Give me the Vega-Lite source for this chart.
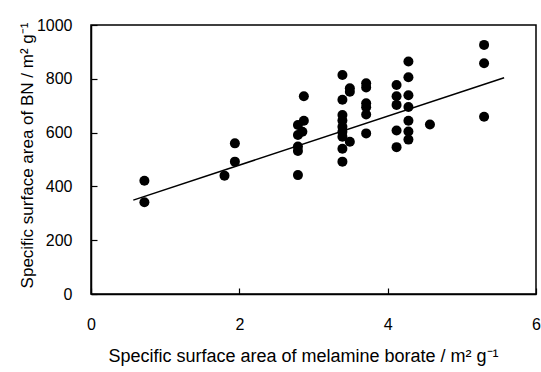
{
  "$schema": "https://vega.github.io/schema/vega-lite/v6.json",
  "width": 445,
  "height": 269,
  "autosize": {"type": "none"},
  "padding": {"left": 91, "top": 25, "right": 5, "bottom": 78},
  "background": "white",
  "config": {
    "font": "Liberation Sans",
    "view": {"stroke": "black", "strokeWidth": 1.5},
    "axis": {
      "grid": false,
      "domainColor": "black",
      "domainWidth": 1.5,
      "tickColor": "black",
      "tickWidth": 1.2,
      "tickSize": -6,
      "labelFontSize": 16,
      "labelColor": "black",
      "labelFont": "Liberation Sans",
      "labelFlush": false,
      "labelOverlap": false,
      "titleFont": "Liberation Sans",
      "titleFontWeight": "normal",
      "titleColor": "black"
    }
  },
  "layer": [
    {
      "data": {
        "values": [
          {"x": 0.72, "y": 421}, {"x": 0.72, "y": 341},
          {"x": 1.80, "y": 440}, {"x": 1.94, "y": 492}, {"x": 1.94, "y": 560},
          {"x": 2.79, "y": 628}, {"x": 2.79, "y": 591}, {"x": 2.79, "y": 548}, {"x": 2.79, "y": 532}, {"x": 2.79, "y": 442},
          {"x": 2.87, "y": 735}, {"x": 2.87, "y": 644}, {"x": 2.85, "y": 603},
          {"x": 3.39, "y": 814}, {"x": 3.39, "y": 722}, {"x": 3.39, "y": 665}, {"x": 3.39, "y": 645}, {"x": 3.39, "y": 622}, {"x": 3.39, "y": 603}, {"x": 3.39, "y": 585}, {"x": 3.39, "y": 540}, {"x": 3.39, "y": 492},
          {"x": 3.49, "y": 765}, {"x": 3.49, "y": 752}, {"x": 3.49, "y": 566},
          {"x": 3.71, "y": 783}, {"x": 3.71, "y": 768}, {"x": 3.71, "y": 709}, {"x": 3.71, "y": 694}, {"x": 3.71, "y": 667}, {"x": 3.71, "y": 597},
          {"x": 4.12, "y": 777}, {"x": 4.12, "y": 735}, {"x": 4.12, "y": 703}, {"x": 4.12, "y": 608}, {"x": 4.12, "y": 546},
          {"x": 4.28, "y": 864}, {"x": 4.28, "y": 806}, {"x": 4.28, "y": 739}, {"x": 4.28, "y": 695}, {"x": 4.28, "y": 644}, {"x": 4.28, "y": 604}, {"x": 4.28, "y": 574},
          {"x": 4.57, "y": 630},
          {"x": 5.30, "y": 926}, {"x": 5.30, "y": 858}, {"x": 5.30, "y": 659}
        ]
      },
      "mark": {"type": "point", "shape": "circle", "filled": true, "size": 100, "color": "black", "opacity": 1},
      "encoding": {
        "x": {
          "field": "x", "type": "quantitative",
          "scale": {"domain": [0, 6], "nice": false},
          "axis": {"values": [0, 2, 4, 6], "format": "d", "labelPadding": 28, "titlePadding": 15, "titleFontSize": 18, "titleX": 212, "title": "Specific surface area of melamine borate / m² g⁻¹"}
        },
        "y": {
          "field": "y", "type": "quantitative",
          "scale": {"domain": [0, 1000], "nice": false},
          "axis": {"values": [0, 200, 400, 600, 800, 1000], "format": "d", "labelPadding": 25, "titlePadding": 0, "titleFontSize": 17, "titleY": 130, "title": "Specific surface area of BN / m² g⁻¹"}
        }
      }
    },
    {
      "data": {"values": [{"x": 0.57, "y": 349}, {"x": 5.57, "y": 804}]},
      "mark": {"type": "line", "color": "black", "strokeWidth": 1.5},
      "encoding": {
        "x": {"field": "x", "type": "quantitative"},
        "y": {"field": "y", "type": "quantitative"}
      }
    }
  ]
}
